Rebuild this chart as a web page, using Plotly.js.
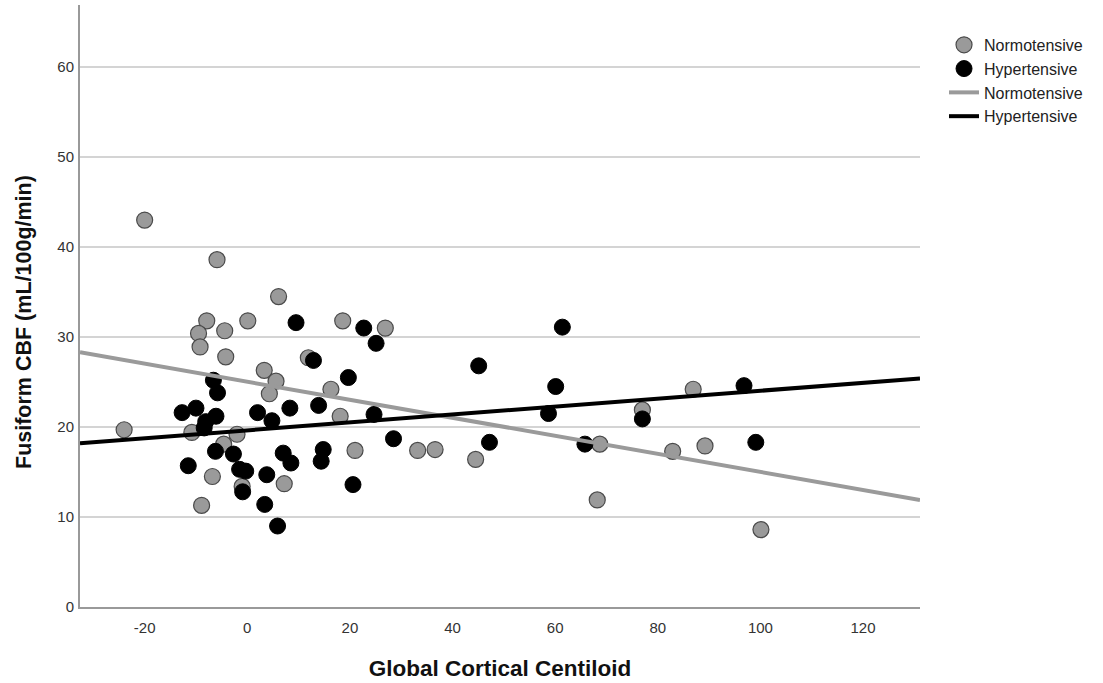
<!DOCTYPE html>
<html>
<head>
<meta charset="utf-8">
<script src="https://cdn.plot.ly/plotly-3.0.1.min.js"></script>
<style>html,body{margin:0;padding:0;background:#fff;}#chart{width:1103px;height:683px;}</style>
</head>
<body>
<div id="chart"></div>
<script>
// Normotensive points
const normX = [-24.0, -20.0, -5.9, 6.1, -7.9, 0.1, -9.5, -4.4, -9.2, -4.2, 3.3, 5.6, 4.3, -10.8, -2.0, -4.6, -6.8, 7.2, -1.0, -8.9, 18.6, 26.9, 11.9, 16.3, 18.1, 33.2, 36.6, 21.0, 86.9, 77.0, 44.5, 68.7, 82.9, 89.2, 68.2, 100.1];
const normY = [19.7, 43.0, 38.6, 34.5, 31.8, 31.8, 30.4, 30.7, 28.9, 27.8, 26.3, 25.1, 23.7, 19.4, 19.2, 18.1, 14.5, 13.7, 13.4, 11.3, 31.8, 31.0, 27.7, 24.2, 21.2, 17.4, 17.5, 17.4, 24.2, 21.9, 16.4, 18.1, 17.3, 17.9, 11.9, 8.6];
// Hypertensive points
const hyperX = [9.5, -6.6, -5.8, -12.7, -10.0, -6.1, -8.1, -8.4, 2.0, 4.8, 8.3, -6.2, -2.7, -11.5, -1.5, -0.3, 7.0, 8.5, 3.8, -0.9, 3.4, 5.9, 22.7, 25.1, 12.9, 19.7, 13.9, 24.7, 28.5, 14.8, 14.4, 20.6, 61.4, 45.1, 60.1, 96.8, 58.7, 77.0, 47.2, 65.8, 99.1];
const hyperY = [31.6, 25.2, 23.8, 21.6, 22.1, 21.2, 20.6, 19.9, 21.6, 20.7, 22.1, 17.3, 17.0, 15.7, 15.3, 15.1, 17.1, 16.0, 14.7, 12.8, 11.4, 9.0, 31.0, 29.3, 27.4, 25.5, 22.4, 21.4, 18.7, 17.5, 16.2, 13.6, 31.1, 26.8, 24.5, 24.6, 21.5, 20.9, 18.3, 18.1, 18.3];
// Fit lines (endpoints)
const fitX = [-32.6, 131.1];
const normFitY = [28.3, 11.9];
const hyperFitY = [18.2, 25.4];
// Ticks
const xTicks = [-20, 0, 20, 40, 60, 80, 100, 120];
const yTicks = [0, 10, 20, 30, 40, 50, 60];
const xTitle = 'Global Cortical Centiloid';
const yTitle = 'Fusiform CBF (mL/100g/min)';

const font = "Liberation Sans, Arial, sans-serif";
const traces = [
  {x: normX, y: normY, mode: 'markers', type: 'scatter', name: 'Normotensive',
   marker: {size: 16, color: '#9a9a9a', line: {color: '#4a4a4a', width: 1.2}}},
  {x: hyperX, y: hyperY, mode: 'markers', type: 'scatter', name: 'Hypertensive',
   marker: {size: 16, color: '#000000', line: {color: '#000000', width: 1}}},
  {x: fitX, y: normFitY, mode: 'lines', type: 'scatter', name: 'Normotensive',
   line: {color: '#9a9a9a', width: 4}},
  {x: fitX, y: hyperFitY, mode: 'lines', type: 'scatter', name: 'Hypertensive',
   line: {color: '#000000', width: 4}}
];
const layout = {
  width: 1103, height: 683,
  margin: {l: 80, r: 183, t: 5, b: 76},
  paper_bgcolor: '#fff', plot_bgcolor: '#fff',
  font: {family: font, color: '#333', size: 15},
  showlegend: true,
  legend: {x: 1.0286, y: 0.962, xanchor: 'left', yanchor: 'top', font: {size: 16, color: '#222'},
           tracegroupgap: 0, bgcolor: 'rgba(0,0,0,0)'},
  xaxis: {range: [-32.6, 131.1], tickvals: xTicks, ticktext: xTicks.map(String),
          showgrid: false, zeroline: false, showline: true, linecolor: '#999', linewidth: 2,
          ticks: '', ticklabelstandoff: 6, tickfont: {size: 15, color: '#333'},
          title: {text: '<b>' + xTitle + '</b>', font: {size: 22.5, color: '#111'}, standoff: 25}},
  yaxis: {range: [0, 66.9], tickvals: yTicks, ticktext: yTicks.map(String),
          showgrid: true, gridcolor: '#d4d4d4', gridwidth: 1.5, zeroline: false,
          showline: true, linecolor: '#999', linewidth: 2,
          ticks: '', ticklabelstandoff: 1, tickfont: {size: 15, color: '#333'}},
  annotations: [{
    text: '<b>' + yTitle + '</b>', xref: 'paper', yref: 'paper',
    x: -0.0667, y: 0.4734, xanchor: 'center', yanchor: 'middle', textangle: -90,
    showarrow: false, font: {size: 21.5, color: '#111', family: font}
  }]
};
Plotly.newPlot('chart', traces, layout, {displayModeBar: false, staticPlot: true});
</script>
</body>
</html>
